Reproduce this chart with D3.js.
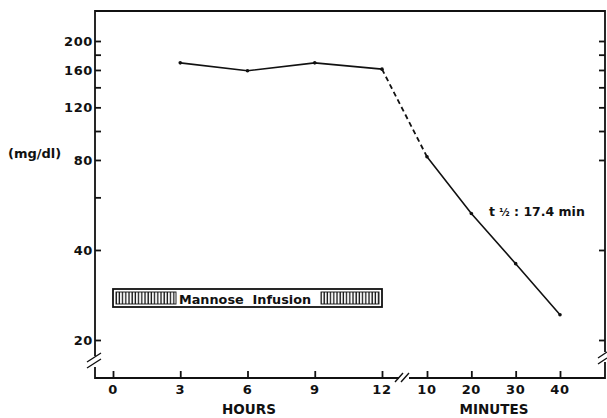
<!DOCTYPE html>
<html>
<head>
<meta charset="utf-8">
<script src="https://cdn.jsdelivr.net/npm/d3@7"></script>
<style>
  body { margin: 0; background: #fff; }
  svg text { font-family: "DejaVu Sans", "Liberation Sans", sans-serif; font-weight: bold; fill: #111; }
</style>
</head>
<body>
<svg class="chart" width="607" height="418"></svg>
<script>
// data
var hours = [3, 6, 9, 12];
var hourValues = [169, 159, 169, 161];
var minutes = [10, 20, 30, 40];
var minuteValues = [82, 53, 36, 24.3];
var hourTicks = [0, 3, 6, 9, 12];
var minuteTicks = [10, 20, 30, 40];
var yLabelTicks = [20, 40, 80, 120, 160, 200];
var yLeftTicks = [20, 40, 60, 80, 100, 120, 140, 160, 180, 200];
var yRightTicks = [20, 40, 80, 100, 120, 140, 160, 180, 200];
var infusion = [0, 12]; // hours

var fLeft = 95, fRight = 605, fTop = 11, fBottom = 378;

var xh = d3.scaleLinear().domain([0, 12]).range([113, 382]);
var xm = d3.scaleLinear().domain([10, 40]).range([427, 560]);
var y = d3.scaleLog().domain([20, 200]).range([340, 41]);

var svg = d3.select(".chart");
var ink = "#111";

// frame with axis breaks
var frame = svg.append("g").attr("fill", "none").attr("stroke", ink).attr("stroke-width", 1.8);
frame.append("path").attr("d",
  "M" + fLeft + ",356V" + fTop + "H" + fRight + "V352");
frame.append("path").attr("d", "M" + fRight + ",362V" + fBottom + "H409");
frame.append("path").attr("d", "M399," + fBottom + "H" + fLeft + "V367");
// break marks
frame.append("path").attr("stroke-width", 1.4).attr("d",
  "M87,362L101,353M87,368L101,359" +
  "M395,382L403,373M401,382L409,373" +
  "M598,358L607,352M598,364L607,358");

// y axis ticks (inward)
svg.append("g").attr("transform", "translate(" + fLeft + ",0)")
  .call(d3.axisRight(y).tickValues(yLeftTicks).tickSize(6).tickFormat(""))
  .call(function(g) { g.select(".domain").remove(); g.selectAll("line").attr("stroke", ink).attr("stroke-width", 1.8); });

svg.append("g").attr("transform", "translate(" + fRight + ",0)")
  .call(d3.axisLeft(y).tickValues(yRightTicks).tickSize(6).tickFormat(""))
  .call(function(g) { g.select(".domain").remove(); g.selectAll("line").attr("stroke", ink).attr("stroke-width", 1.8); });

svg.append("g").selectAll("text")
  .data(yLabelTicks).enter().append("text")
  .attr("x", fLeft - 2).attr("y", function(d) { return y(d); })
  .attr("dy", "0.36em").attr("text-anchor", "end")
  .attr("font-size", 13).attr("letter-spacing", 0.6)
  .text(function(d) { return d; });

// x axes
var xhAxis = svg.append("g").attr("transform", "translate(0," + fBottom + ")")
  .call(d3.axisTop(xh).tickValues(hourTicks).tickSize(7).tickFormat(""));
var xmAxis = svg.append("g").attr("transform", "translate(0," + fBottom + ")")
  .call(d3.axisTop(xm).tickValues(minuteTicks).tickSize(7).tickFormat(""));
[xhAxis, xmAxis].forEach(function(g) {
  g.select(".domain").remove();
  g.selectAll("line").attr("stroke", ink).attr("stroke-width", 1.8);
});

svg.append("g").selectAll("text")
  .data(hourTicks).enter().append("text")
  .attr("x", function(d) { return xh(d); }).attr("y", 394)
  .attr("text-anchor", "middle").attr("font-size", 13).attr("letter-spacing", 0.6)
  .text(function(d) { return d; });
svg.append("g").selectAll("text")
  .data(minuteTicks).enter().append("text")
  .attr("x", function(d) { return xm(d); }).attr("y", 394)
  .attr("text-anchor", "middle").attr("font-size", 13).attr("letter-spacing", 0.6)
  .text(function(d) { return d; });

svg.append("text").attr("x", 249).attr("y", 414).attr("text-anchor", "middle")
  .attr("font-size", 13.5).text("HOURS");
svg.append("text").attr("x", 494).attr("y", 414).attr("text-anchor", "middle")
  .attr("font-size", 13.5).text("MINUTES");
svg.append("text").attr("x", 8).attr("y", 158)
  .attr("font-size", 13).text("(mg/dl)");

// infusion bar
var bx0 = xh(infusion[0]), bx1 = xh(infusion[1]), by0 = 289, by1 = 307;
var defs = svg.append("defs");
var pat = defs.append("pattern").attr("id", "hatch").attr("patternUnits", "userSpaceOnUse")
  .attr("width", 3.2).attr("height", 10);
pat.append("line").attr("x1", 1).attr("x2", 1).attr("y1", 0).attr("y2", 10)
  .attr("stroke", ink).attr("stroke-width", 1.3);

var bar = svg.append("g");
bar.append("rect").attr("x", bx0).attr("y", by0).attr("width", bx1 - bx0).attr("height", by1 - by0)
  .attr("fill", "#fff").attr("stroke", ink).attr("stroke-width", 1.8);
bar.append("rect").attr("x", bx0 + 3).attr("y", by0 + 3).attr("width", 176 - bx0 - 3).attr("height", by1 - by0 - 6)
  .attr("fill", "url(#hatch)").attr("stroke", ink).attr("stroke-width", 0.9);
bar.append("rect").attr("x", 321).attr("y", by0 + 3).attr("width", bx1 - 3 - 321).attr("height", by1 - by0 - 6)
  .attr("fill", "url(#hatch)").attr("stroke", ink).attr("stroke-width", 0.9);
bar.append("text").attr("x", 179).attr("y", 304).attr("font-size", 12.8)
  .attr("xml:space", "preserve").text("Mannose  Infusion");

// data lines
var lineH = d3.line().x(function(d) { return xh(d[0]); }).y(function(d) { return y(d[1]); });
var lineM = d3.line().x(function(d) { return xm(d[0]); }).y(function(d) { return y(d[1]); });
var hp = hours.map(function(h, i) { return [h, hourValues[i]]; });
var mp = minutes.map(function(m, i) { return [m, minuteValues[i]]; });

svg.append("path").attr("d", lineH(hp)).attr("fill", "none").attr("stroke", ink).attr("stroke-width", 1.6);
svg.append("path").attr("d", lineM(mp)).attr("fill", "none").attr("stroke", ink).attr("stroke-width", 1.6);
var last = hp[hp.length - 1], first = mp[0];
svg.append("line")
  .attr("x1", xh(last[0])).attr("y1", y(last[1]))
  .attr("x2", xm(first[0])).attr("y2", y(first[1]))
  .attr("stroke", ink).attr("stroke-width", 1.8).attr("stroke-dasharray", "5,3.5");

svg.append("g").selectAll("circle").data(hp).enter().append("circle")
  .attr("cx", function(d) { return xh(d[0]); }).attr("cy", function(d) { return y(d[1]); })
  .attr("r", 1.8).attr("fill", ink);
svg.append("g").selectAll("circle").data(mp).enter().append("circle")
  .attr("cx", function(d) { return xm(d[0]); }).attr("cy", function(d) { return y(d[1]); })
  .attr("r", 1.8).attr("fill", ink);

// half-life label
var hl = svg.append("text").attr("x", 489).attr("y", 216).attr("font-size", 12.5);
hl.append("tspan").text("t ");
hl.append("tspan").attr("font-size", 10).text("½");
hl.append("tspan").text(" : 17.4 min");
</script>
</body>
</html>
